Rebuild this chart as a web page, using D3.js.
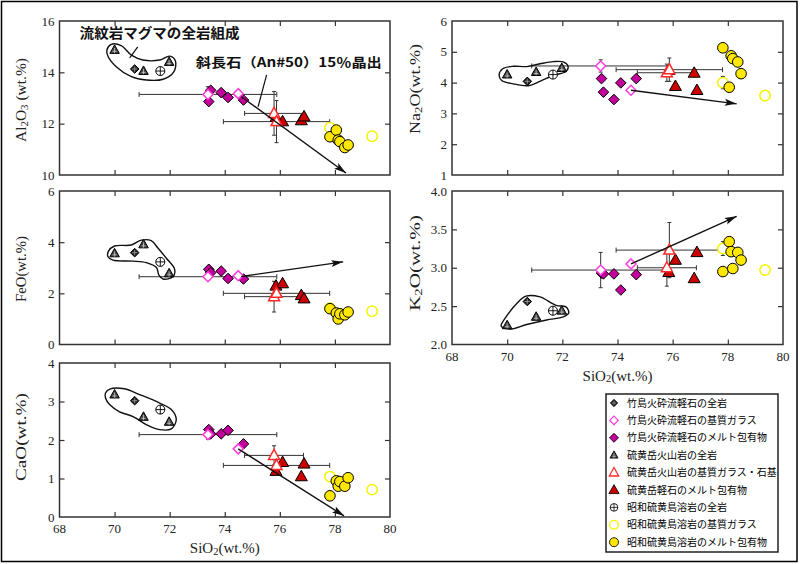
<!DOCTYPE html>
<html><head><meta charset="utf-8">
<script src="https://cdn.jsdelivr.net/npm/d3@7"></script>
<style>body{margin:0;background:#fff} svg{display:block}</style>
</head><body>
<svg id="c" width="800" height="564"></svg>
<script>
// ---------- DATA ----------
const oxides = ["Al2O3","Na2O","FeO","K2O","CaO"];
const xTicks = [68,70,72,74,76,78,80];
const ticksAl2O3 = [10,12,14,16];
const ticksNa2O = [1,2,3,4,5,6];
const ticksFeO = [0,2,4,6];
const ticksK2O = [2.0,2.5,3.0,3.5,4.0];
const ticksCaO = [0,1,2,3,4];

// rows: [SiO2, Al2O3, Na2O, FeO, K2O, CaO]
const takeshimaWR   = [[70.73,14.13,4.04,3.59,2.56,3.02]];
const takeshimaGlass= [[73.39,13.14,4.54,2.65,2.97,2.14],[74.49,13.17,3.75,2.69,3.05,1.77]];
const takeshimaMI   = [[73.42,12.86,4.13,2.94,2.93,2.27],[73.49,13.30,3.69,2.81,2.92,2.16],
                       [73.87,13.21,3.45,2.87,2.92,2.16],[74.12,13.02,3.99,2.58,2.71,2.25],
                       [74.68,12.92,4.13,2.56,2.91,1.90]];
const iwodakeWR     = [[70.00,14.87,4.26,3.56,2.25,3.18],[71.05,14.05,4.34,3.91,2.36,2.60],
                       [71.98,14.40,4.47,2.78,2.44,2.47]];
const iwodakeGlass  = [[75.79,12.40,4.32,1.87,3.00,1.60],[75.88,12.08,4.42,2.00,3.23,1.34]];
const iwodakeMI     = [[75.86,12.25,4.40,2.29,2.94,1.19],[76.10,12.08,3.88,2.38,3.10,1.42],
                       [76.78,12.12,4.31,1.92,2.86,1.05],[76.88,12.27,3.75,1.79,3.20,1.38]];
const showaWR       = [[71.66,14.05,4.26,3.23,2.44,2.79]];
const showaGlass    = [[77.82,11.84,4.00,1.42,3.25,1.05],[79.35,11.51,3.58,1.30,2.97,0.71]];
const showaMI       = [[77.82,11.49,5.13,1.40,2.95,0.55],[78.05,11.75,3.85,1.23,3.34,0.94],
                       [78.12,11.36,4.87,1.00,3.21,0.80],[78.18,11.30,4.78,1.20,2.99,0.92],
                       [78.36,11.07,4.67,1.16,3.20,0.80],[78.48,11.17,4.29,1.27,3.10,1.02]];
// error half-widths: [dSiO2, dAl2O3, dNa2O, dFeO, dK2O, dCaO]
const takeshimaGlassErr = [[2.5,0.3,0.2,0,0.23,0.12],[0,0,0,0,0,0]];
const iwodakeGlassErr   = [[1.07,0.85,0.28,0.6,0.24,0.25],[1.93,0.82,0.38,0,0.36,0]];
const showaGlassErr     = [[0,0,0.2,0,0.09,0],[0,0,0,0,0,0]];

// arrows (start / end) per oxide panel
const arrowFrom = [[74.60,13.05],[74.49,3.75],[74.60,2.66],[74.49,3.05],[74.49,1.77]];
const arrowTo   = [[78.40,10.08],[78.32,3.31],[78.30,3.23],[78.32,3.67],[78.33,0.03]];

// rhyolite whole-rock outlines
const blobAl2O3 = [[69.72,14.87],[69.88,15.09],[70.24,15.04],[70.61,14.67],[71.03,14.48],[71.64,14.48],[72.0,14.63],[72.21,14.44],[72.15,14.02],[71.76,13.73],[71.15,13.7],[70.61,13.83],[70.06,14.22],[69.76,14.63]];
const blobNa2O  = [[69.71,4.26],[69.84,4.45],[70.22,4.53],[70.71,4.52],[71.19,4.61],[71.67,4.68],[72.03,4.67],[72.21,4.52],[72.13,4.36],[71.67,4.23],[71.19,4.04],[70.77,3.9],[70.22,3.96],[69.8,4.07]];
const blobFeO   = [[69.78,3.65],[70.0,3.85],[70.61,3.89],[70.97,4.08],[71.33,4.06],[71.58,3.76],[71.88,3.37],[72.18,2.94],[72.12,2.65],[71.76,2.56],[71.61,2.71],[71.52,3.01],[71.15,3.2],[70.67,3.26],[69.94,3.3],[69.76,3.43]];
const blobK2O   = [[69.78,2.25],[69.96,2.36],[70.34,2.53],[70.68,2.63],[71.19,2.62],[71.77,2.51],[72.13,2.49],[72.23,2.41],[72.03,2.36],[71.43,2.32],[70.71,2.26],[70.1,2.2],[69.8,2.23]];
const blobCaO   = [[69.67,3.22],[69.85,3.33],[70.36,3.33],[70.91,3.18],[71.64,2.96],[72.06,2.79],[72.24,2.53],[72.06,2.29],[71.64,2.27],[71.15,2.4],[70.67,2.61],[70.18,2.73],[69.82,2.92],[69.67,3.09]];

const note1 = "流紋岩マグマの全岩組成";
const note2 = "斜長石（An#50）15％晶出";
const legendLabels = ["竹島火砕流軽石の全岩","竹島火砕流軽石の基質ガラス","竹島火砕流軽石のメルト包有物",
  "硫黄岳火山岩の全岩","硫黄岳火山岩の基質ガラス・石基","硫黄岳軽石のメルト包有物",
  "昭和硫黄島溶岩の全岩","昭和硫黄島溶岩の基質ガラス","昭和硫黄島溶岩のメルト包有物"];
const legendTypes = ["takeWR","takeGlass","takeMI","iwoWR","iwoGlass","iwoMI","showaWR","showaGlass","showaMI"];

// ---------- LAYOUT ----------
const layout = [
  {l:59.5, r:390, t:21,  b:175, dom:[10,16], ticks:ticksAl2O3, fmt:d3.format("d"), xLab:false, blob:blobAl2O3,
   title:[["Al",0],["2",1],["O",0],["3",1],[" (wt.%)",0]], tx:26, ty:100, tl:84},
  {l:452, r:783, t:21,  b:175, dom:[1,6], ticks:ticksNa2O, fmt:d3.format("d"), xLab:false, blob:blobNa2O,
   title:[["Na",0],["2",1],["O(wt.%)",0]], tx:420, ty:89, tl:90},
  {l:59.5, r:390, t:191, b:344.5, dom:[0,6], ticks:ticksFeO, fmt:d3.format("d"), xLab:false, blob:blobFeO,
   title:[["FeO(wt.%)",0]], tx:26, ty:269, tl:66},
  {l:452, r:783, t:191, b:344.5, dom:[2,4], ticks:ticksK2O, fmt:d3.format(".1f"), xLab:true, blob:blobK2O,
   title:[["K",0],["2",1],["O(wt.%)",0]], tx:420, ty:263, tl:96},
  {l:59.5, r:390, t:363, b:517, dom:[0,4], ticks:ticksCaO, fmt:d3.format("d"), xLab:true, blob:blobCaO,
   title:[["CaO(wt.%)",0]], tx:26, ty:437, tl:88}
];

const SERIF = "'Liberation Serif','Times New Roman',serif";
const CJK = "'Noto Sans CJK JP','Noto Sans CJK SC',sans-serif";
const AX = "#333";

const svg = d3.select("#c");
svg.append("rect").attr("width",800).attr("height",564).attr("fill","#fff");
svg.append("defs").append("marker").attr("id","ah").attr("viewBox","0 0 12 8")
  .attr("refX",12).attr("refY",4).attr("markerWidth",12).attr("markerHeight",8)
  .attr("markerUnits","userSpaceOnUse").attr("orient","auto")
  .append("path").attr("d","M0,0.5L12,4L0,7.5L2.5,4Z").attr("fill","#111");

function dia(r){return `M0,${-r}L${r},0L0,${r}L${-r},0Z`;}
function tri(w,h){return `M0,${-h*0.6}L${w/2},${h*0.4}L${-w/2},${h*0.4}Z`;}

function sym(g,type,x,y,s){
  s = s||1;
  const G = g.append("g").attr("transform",`translate(${x},${y}) scale(${s})`);
  switch(type){
    case "takeWR":
      G.append("path").attr("d",dia(4.3)).attr("fill","#222").attr("stroke","#000").attr("stroke-width",1);
      G.append("path").attr("d","M-2.6,0H2.6M0,-2.6V2.6").attr("stroke","#999").attr("stroke-width",0.9);
      break;
    case "takeGlass":
      G.append("path").attr("d",dia(5)).attr("fill","#fff").attr("stroke","#ff3cdc").attr("stroke-width",1.5); break;
    case "takeMI":
      G.append("path").attr("d",dia(5.3)).attr("fill","#c4009c").attr("stroke","#000").attr("stroke-width",1); break;
    case "iwoWR":
      G.append("path").attr("d",tri(9.5,8.5)).attr("fill","#444").attr("stroke","#000").attr("stroke-width",1);
      G.append("path").attr("d","M-2,1.4H2M0,-2V3.2").attr("stroke","#ccc").attr("stroke-width",0.8);
      break;
    case "iwoGlass":
      G.append("path").attr("d",tri(11,10)).attr("fill","#fff").attr("stroke","#ff2a2a").attr("stroke-width",1.5); break;
    case "iwoMI":
      G.append("path").attr("d",tri(12,10.5)).attr("fill","#cc0000").attr("stroke","#000").attr("stroke-width",1); break;
    case "showaWR":
      G.append("circle").attr("r",4.5).attr("fill","#fff").attr("stroke","#000").attr("stroke-width",1);
      G.append("path").attr("d","M-4.5,0H4.5M0,-4.5V4.5").attr("stroke","#000").attr("stroke-width",0.9);
      break;
    case "showaGlass":
      G.append("circle").attr("r",5.2).attr("fill","#fff").attr("stroke","#f4f400").attr("stroke-width",1.5); break;
    case "showaMI":
      G.append("circle").attr("r",5.3).attr("fill","#ffe800").attr("stroke","#000").attr("stroke-width",1); break;
  }
}

const groups = [
  [iwodakeWR,"iwoWR"],[takeshimaWR,"takeWR"],[showaWR,"showaWR"],
  [takeshimaMI,"takeMI"],[takeshimaGlass,"takeGlass"],
  [iwodakeMI,"iwoMI"],[iwodakeGlass,"iwoGlass"],
  [showaGlass,"showaGlass"],[showaMI,"showaMI"]
];
const errGroups = [[takeshimaGlass,takeshimaGlassErr],[iwodakeGlass,iwodakeGlassErr],[showaGlass,showaGlassErr]];

layout.forEach((P,j)=>{
  const k = j+1;
  const x = d3.scaleLinear().domain([68,80]).range([P.l,P.r]);
  const y = d3.scaleLinear().domain(P.dom).range([P.b,P.t]);
  const g = svg.append("g");
  P.x = x; P.y = y;

  const inner = xTicks.filter(v=>v>68 && v<80);
  const yin = P.ticks.filter(v=>v>P.dom[0] && v<P.dom[1]);
  const ax = [
    [d3.axisBottom(x).tickValues(inner).tickSizeInner(-5).tickSizeOuter(0).tickFormat(""), `translate(0,${P.b})`],
    [d3.axisTop(x).tickValues(inner).tickSizeInner(-5).tickSizeOuter(0).tickFormat(""), `translate(0,${P.t})`],
    [d3.axisLeft(y).tickValues(yin).tickSizeInner(-5).tickSizeOuter(0).tickFormat(""), `translate(${P.l},0)`],
    [d3.axisRight(y).tickValues(yin).tickSizeInner(-5).tickSizeOuter(0).tickFormat(""), `translate(${P.r},0)`]
  ];
  ax.forEach(([a,tr])=>{
    const ag = g.append("g").attr("transform",tr).call(a);
    ag.select(".domain").remove();
    ag.selectAll("line").attr("stroke",AX).attr("stroke-width",1.2);
  });
  g.append("rect").attr("x",P.l).attr("y",P.t).attr("width",P.r-P.l).attr("height",P.b-P.t)
    .attr("fill","none").attr("stroke",AX).attr("stroke-width",1.5);

  g.selectAll(".yl").data(P.ticks).enter().append("text")
    .attr("x",P.l-5).attr("y",d=>y(d)+4.5).attr("text-anchor","end")
    .attr("font-family",SERIF).attr("font-size",13).attr("fill","#222").text(d=>P.fmt(d));
  if(P.xLab){
    g.selectAll(".xl").data(xTicks).enter().append("text")
      .attr("x",d=>x(d)).attr("y",P.b+16).attr("text-anchor","middle")
      .attr("font-family",SERIF).attr("font-size",13).attr("fill","#222").text(d=>d);
    const xt = g.append("text").attr("x",(P.l+P.r)/2).attr("y",P.b+36).attr("text-anchor","middle")
      .attr("font-family",SERIF).attr("font-size",15).attr("fill","#222");
    xt.append("tspan").text("SiO");
    xt.append("tspan").attr("font-size",10.5).attr("dy",1.5).text("2");
    xt.append("tspan").attr("dy",-1.5).text("(wt.%)");
  }
  const yt = g.append("text").attr("transform",`translate(${P.tx},${P.ty}) rotate(-90)`)
    .attr("text-anchor","middle").attr("font-family",SERIF).attr("font-size",15).attr("fill","#222")
    .attr("textLength",P.tl).attr("lengthAdjust","spacingAndGlyphs");
  let low = false;
  P.title.forEach(([s,sub])=>{
    const t = yt.append("tspan").text(s);
    if(sub){ t.attr("font-size",10.5).attr("dy",low?0:1.5); low=true; }
    else if(low){ t.attr("dy",-1.5); low=false; }
  });

  const eg = g.append("g").attr("stroke","#333").attr("stroke-width",1).attr("fill","none");
  errGroups.forEach(([rows,errs])=>{
    rows.forEach((r,i)=>{
      const ex = errs[i][0], ey = errs[i][k];
      const cx = x(r[0]), cy = y(r[k]);
      if(ex>0){
        eg.append("line").attr("x1",x(r[0]-ex)).attr("x2",x(r[0]+ex)).attr("y1",cy).attr("y2",cy);
        [r[0]-ex,r[0]+ex].forEach(v=>eg.append("line").attr("x1",x(v)).attr("x2",x(v)).attr("y1",cy-2.5).attr("y2",cy+2.5));
      }
      if(ey>0){
        eg.append("line").attr("x1",cx).attr("x2",cx).attr("y1",y(r[k]-ey)).attr("y2",y(r[k]+ey));
        [r[k]-ey,r[k]+ey].forEach(v=>eg.append("line").attr("x1",cx-2).attr("x2",cx+2).attr("y1",y(v)).attr("y2",y(v)));
      }
    });
  });

  g.append("path").datum(P.blob)
    .attr("d",d3.line().x(d=>x(d[0])).y(d=>y(d[1])).curve(d3.curveCatmullRomClosed.alpha(0.5)))
    .attr("fill","none").attr("stroke","#111").attr("stroke-width",1.4);

  groups.forEach(([rows,type])=>{
    rows.forEach(r=>sym(g,type,x(r[0]),y(r[k])));
  });

  g.append("line").attr("x1",x(arrowFrom[j][0])).attr("y1",y(arrowFrom[j][1]))
    .attr("x2",x(arrowTo[j][0])).attr("y2",y(arrowTo[j][1]))
    .attr("stroke","#111").attr("stroke-width",1.4).attr("marker-end","url(#ah)");
});

(function(){
  const P = layout[0], x = P.x, y = P.y;
  const g = svg.append("g");
  g.append("line").attr("x1",x(70.84)).attr("y1",y(14.99)).attr("x2",x(70.55)).attr("y2",y(14.56))
    .attr("stroke","#111").attr("stroke-width",1.2);
  g.append("line").attr("x1",x(75.52)).attr("y1",y(13.9)).attr("x2",x(75.21)).attr("y2",y(12.66))
    .attr("stroke","#111").attr("stroke-width",1.2);
  g.append("text").attr("x",x(68.73)).attr("y",y(15.32)).attr("font-family",CJK).attr("font-weight","bold")
    .attr("font-size",13.5).attr("textLength",160).attr("lengthAdjust","spacingAndGlyphs").attr("fill","#111").text(note1);
  g.append("text").attr("x",x(72.95)).attr("y",y(14.21)).attr("font-family",CJK).attr("font-weight","bold")
    .attr("font-size",13).attr("textLength",186).attr("lengthAdjust","spacingAndGlyphs").attr("fill","#111").text(note2);
})();

const lg = svg.append("g");
lg.append("rect").attr("x",606).attr("y",394).attr("width",172).attr("height",158)
  .attr("fill","#fff").attr("stroke","#222").attr("stroke-width",1.5);
legendLabels.forEach((lab,i)=>{
  const cy = 403 + i*17.4;
  sym(lg,legendTypes[i],614,cy,0.85);
  lg.append("text").attr("x",627).attr("y",cy+3.6).attr("font-family",CJK).attr("font-size",10)
    .attr("fill","#000").text(lab);
});

svg.append("rect").attr("x",1.5).attr("y",1.5).attr("width",795.5).attr("height",560)
  .attr("fill","none").attr("stroke","#000").attr("stroke-width",1.5);
</script>
</body></html>
